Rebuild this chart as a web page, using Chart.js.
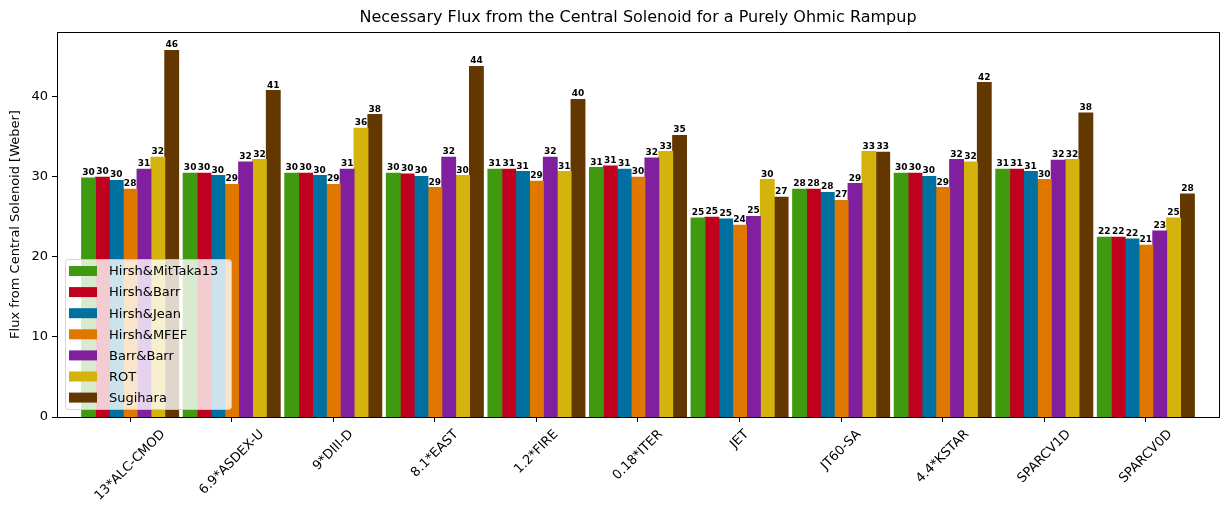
<!DOCTYPE html>
<html>
<head>
<meta charset="utf-8">
<script src="https://cdn.jsdelivr.net/npm/chart.js@4/dist/chart.umd.min.js"></script>
<style>
  html, body { margin: 0; padding: 0; background: #ffffff; }
  #wrap { width: 1229px; height: 517px; }
</style>
</head>
<body>
<div id="wrap"><canvas id="flux-chart" width="1229" height="517"></canvas></div>
<script>
const machines = ['13*ALC-CMOD', '6.9*ASDEX-U', '9*DIII-D', '8.1*EAST', '1.2*FIRE', '0.18*ITER',
                  'JET', 'JT60-SA', '4.4*KSTAR', 'SPARCV1D', 'SPARCV0D'];

const hirshMitTaka13 = [29.8, 30.4, 30.4, 30.4, 30.9, 31.1, 24.8, 28.4, 30.4, 30.9, 22.4];
const hirshBarr      = [29.9, 30.4, 30.4, 30.3, 30.9, 31.3, 24.9, 28.4, 30.4, 30.9, 22.4];
const hirshJean      = [29.5, 30.1, 30.1, 30.0, 30.6, 30.9, 24.7, 28.0, 30.0, 30.6, 22.2];
const hirshMFEF      = [28.4, 29.0, 29.0, 28.6, 29.4, 29.9, 23.9, 27.0, 28.6, 29.6, 21.4];
const barrBarr       = [30.9, 31.8, 30.9, 32.4, 32.4, 32.3, 25.0, 29.1, 32.1, 32.0, 23.2];
const rot            = [32.4, 32.1, 36.0, 30.1, 30.6, 33.1, 29.6, 33.1, 31.8, 32.1, 24.8];
const sugihara       = [45.7, 40.7, 37.7, 43.7, 39.6, 35.1, 27.4, 33.0, 41.7, 37.9, 27.8];

const yTicks = [0, 10, 20, 30, 40];

const seriesNames = ['Hirsh&MitTaka13', 'Hirsh&Barr', 'Hirsh&Jean', 'Hirsh&MFEF', 'Barr&Barr', 'ROT', 'Sugihara'];
const seriesValues = [hirshMitTaka13, hirshBarr, hirshJean, hirshMFEF, barrBarr, rot, sugihara];
const seriesColors = ['#409a10', '#c0001f', '#0070a0', '#e07800', '#80209f', '#d4b40c', '#633800'];

const FONT = "'DejaVu Sans', sans-serif";

const datasets = seriesNames.map((name, k) => ({
    label: name,
    data: seriesValues[k].map((v, i) => ({ x: i, y: v })),
    backgroundColor: seriesColors[k],
    borderWidth: 0,
    inflateAmount: 0.5,
    categoryPercentage: 0.955,
    barPercentage: 1.0,
}));

// title, frame, value labels, rotated tick labels and legend
const extras = {
    id: 'extras',
    afterDatasetsDraw(chart) {
        const ctx = chart.ctx;
        ctx.save();
        ctx.fillStyle = '#000';
        ctx.font = 'bold 9px ' + FONT;
        ctx.textAlign = 'center';
        ctx.textBaseline = 'alphabetic';
        chart.data.datasets.forEach((ds, k) => {
            const meta = chart.getDatasetMeta(k);
            meta.data.forEach((bar, i) => {
                ctx.fillText(Math.round(seriesValues[k][i]), bar.x, bar.y - 3);
            });
        });
        ctx.restore();
    },
    afterDraw(chart) {
        const ctx = chart.ctx;
        const area = chart.chartArea;
        const xScale = chart.scales.x;
        ctx.save();

        // frame
        ctx.strokeStyle = '#000';
        ctx.lineWidth = 1;
        ctx.strokeRect(Math.round(area.left) + 0.5, Math.round(area.top) + 0.5,
                       Math.round(area.right - area.left), Math.round(area.bottom - area.top));

        // title
        ctx.fillStyle = '#000';
        ctx.font = '16px ' + FONT;
        ctx.textAlign = 'center';
        ctx.textBaseline = 'middle';
        ctx.fillText('Necessary Flux from the Central Solenoid for a Purely Ohmic Rampup',
                     (area.left + area.right) / 2, 18);

        // x tick labels, rotated 45 deg and centred on the tick
        ctx.font = '13px ' + FONT;
        machines.forEach((m, i) => {
            const w = ctx.measureText(m).width;
            const box = (w + 15) * Math.SQRT1_2;
            const px = xScale.getPixelForValue(i);
            ctx.save();
            ctx.translate(px, area.bottom + 10 + box / 2);
            ctx.rotate(-Math.PI / 4);
            ctx.fillText(m, 0, 0);
            ctx.restore();
        });

        // legend
        const lx = 65, ly = 259, lw = 166, lh = 150;
        ctx.beginPath();
        ctx.roundRect(lx + 0.5, ly + 0.5, lw, lh, 3);
        ctx.fillStyle = 'rgba(255,255,255,0.8)';
        ctx.fill();
        ctx.strokeStyle = 'rgba(204,204,204,0.8)';
        ctx.stroke();
        ctx.font = '13px ' + FONT;
        ctx.textAlign = 'left';
        ctx.textBaseline = 'middle';
        seriesNames.forEach((name, k) => {
            const cy = 271 + k * 21.1;
            ctx.fillStyle = seriesColors[k];
            ctx.fillRect(69, cy - 5, 28, 10);
            ctx.fillStyle = '#000';
            ctx.fillText(name, 109, cy + 1);
        });
        ctx.restore();
    }
};

const config = {
    type: 'bar',
    data: { datasets: datasets },
    options: {
        responsive: false,
        animation: false,
        events: [],
        layout: { padding: { top: 32, right: 10, bottom: 0, left: 0 } },
        plugins: {
            legend: { display: false },
            title: { display: false },
            tooltip: { enabled: false }
        },
        scales: {
            x: {
                type: 'linear',
                min: -0.72,
                max: 10.72,
                offset: false,
                grid: { display: true, offset: false, drawOnChartArea: false, drawTicks: true, tickLength: 5, color: '#000', tickColor: '#000' },
                border: { display: true, color: '#000' },
                ticks: { display: false },
                afterBuildTicks: (axis) => { axis.ticks = machines.map((m, i) => ({ value: i })); },
                afterFit: (axis) => { axis.height = 100; }
            },
            y: {
                min: 0,
                max: 48,
                grid: { display: true, drawOnChartArea: false, drawTicks: true, tickLength: 5, color: '#000', tickColor: '#000' },
                border: { display: true, color: '#000' },
                ticks: { color: '#000', padding: 4, font: { family: FONT, size: 13 } },
                afterBuildTicks: (axis) => { axis.ticks = yTicks.map(v => ({ value: v })); },
                title: {
                    display: true,
                    text: 'Flux from Central Solenoid [Weber]',
                    color: '#000',
                    font: { family: FONT, size: 13 },
                    padding: { top: 8, bottom: 0 }
                },
                afterFit: (axis) => { axis.width = 57; }
            }
        }
    },
    plugins: [extras]
};

const chart = new Chart(document.getElementById('flux-chart').getContext('2d'), config);
</script>
</body>
</html>
